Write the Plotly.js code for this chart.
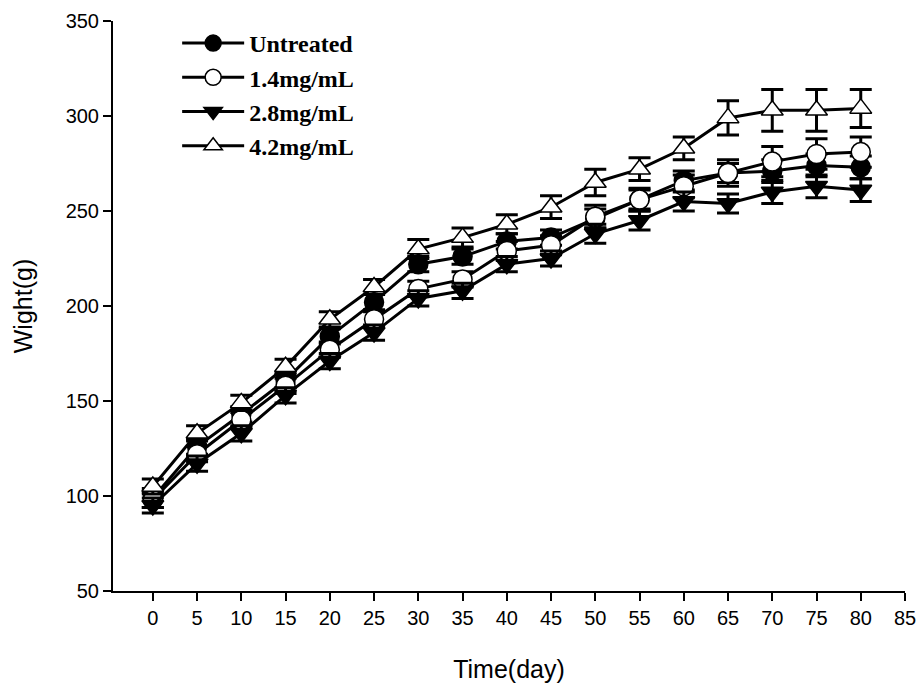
<!DOCTYPE html>
<html>
<head>
<meta charset="utf-8">
<script src="https://cdn.plot.ly/plotly-3.0.1.min.js"></script>
<style>html,body{margin:0;padding:0;background:#fff;}#chart{width:918px;height:683px;}</style>
</head>
<body>
<div id="chart"></div>
<script>
const days = [0, 5, 10, 15, 20, 25, 30, 35, 40, 45, 50, 55, 60, 65, 70, 75, 80];
const seriesNames = ["Untreated", "1.4mg/mL", "2.8mg/mL", "4.2mg/mL"];
const untreated = [99, 126, 143, 161, 184, 202, 222, 226, 234, 236, 246, 256, 266, 270, 271, 274, 273];
const dose14 = [98, 122, 140, 158, 177, 193, 209, 214, 229, 232, 247, 256, 263, 270, 276, 280, 281];
const dose28 = [95, 117, 133, 153, 171, 186, 204, 208, 222, 225, 238, 245, 255, 254, 260, 263, 261];
const dose42 = [105, 133, 149, 168, 193, 210, 230, 236, 243, 252, 265, 272, 283, 299, 303, 303, 304];
const errUntreated = [5, 4, 4, 4, 4, 4, 4, 4, 4, 4, 5, 5, 5, 5, 6, 6, 6];
const err14 = [4, 4, 4, 4, 4, 4, 4, 4, 5, 5, 6, 6, 6, 7, 8, 8, 8];
const err28 = [4, 4, 4, 4, 4, 4, 4, 4, 4, 4, 5, 5, 5, 5, 6, 6, 6];
const err42 = [4, 4, 4, 4, 4, 4, 5, 5, 5, 6, 7, 6, 6, 9, 11, 11, 10];
const xTicks = [0, 5, 10, 15, 20, 25, 30, 35, 40, 45, 50, 55, 60, 65, 70, 75, 80, 85];
const yTicks = [50, 100, 150, 200, 250, 300, 350];

const values = [untreated, dose14, dose28, dose42];
const errors = [errUntreated, err14, err28, err42];
const symbols = ["circle", "circle", "triangle-down", "triangle-up"];
const fills = ["#000000", "#ffffff", "#000000", "#ffffff"];

const traces = values.map((v, i) => ({
  type: "scatter",
  mode: "lines+markers",
  name: seriesNames[i],
  x: days,
  y: v,
  line: {color: "#000000", width: 3},
  marker: {symbol: symbols[i], size: 19, color: fills[i], line: {color: "#000000", width: 1.5}},
  error_y: {type: "data", array: errors[i], visible: true, color: "#000000", thickness: 3, width: 11}
}));

const layout = {
  width: 918,
  height: 683,
  margin: {l: 113, r: 13, t: 21, b: 92},
  paper_bgcolor: "#ffffff",
  plot_bgcolor: "#ffffff",
  showlegend: true,
  legend: {
    x: 0.081, y: 1.0, xanchor: "left", yanchor: "top",
    font: {family: "Liberation Serif", size: 24, color: "#000000", weight: "bold"},
    bgcolor: "rgba(255,255,255,1)",
    tracegroupgap: 0,
    itemwidth: 62
  },
  xaxis: {
    range: [-4.5, 85],
    tickvals: xTicks,
    ticktext: xTicks.map(String),
    showgrid: false, zeroline: false,
    showline: true, linecolor: "#000000", linewidth: 2,
    ticks: "outside", ticklen: 8, tickwidth: 2, tickcolor: "#000000",
    tickfont: {family: "Liberation Sans", size: 20, color: "#000000"},
    title: {text: "Time(day)", font: {family: "Liberation Sans", size: 25, color: "#000000"}, standoff: 32}
  },
  yaxis: {
    range: [50, 350],
    tickvals: yTicks,
    ticktext: yTicks.map(String),
    showgrid: false, zeroline: false,
    showline: true, linecolor: "#000000", linewidth: 2,
    ticks: "outside", ticklen: 8, tickwidth: 2, tickcolor: "#000000",
    tickfont: {family: "Liberation Sans", size: 20, color: "#000000"},
    title: {text: "Wight(g)", font: {family: "Liberation Sans", size: 25, color: "#000000"}, standoff: 26}
  }
};

Plotly.newPlot("chart", traces, layout, {displayModeBar: false, staticPlot: true});
</script>
</body>
</html>
